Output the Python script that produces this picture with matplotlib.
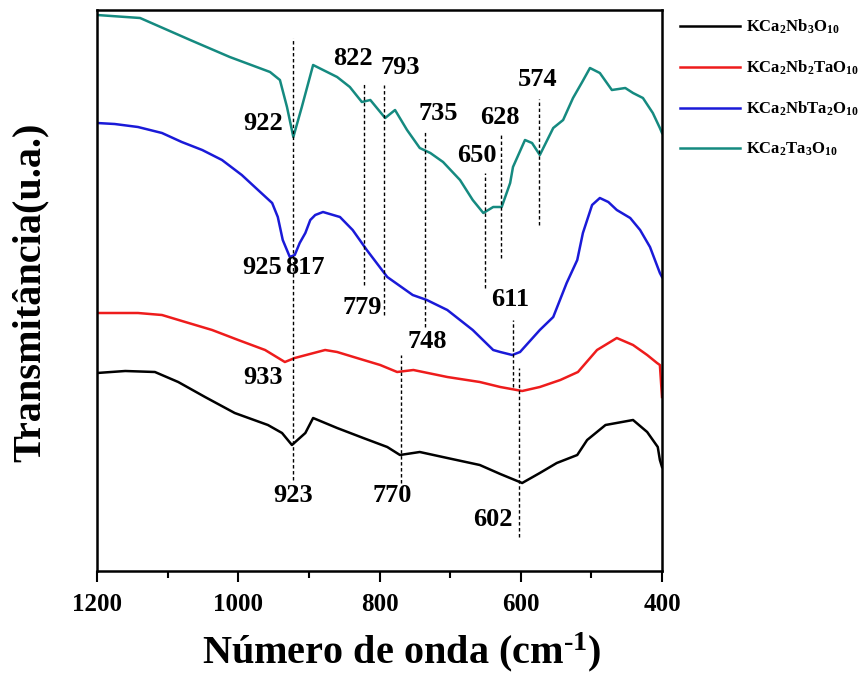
import matplotlib
matplotlib.use('Agg')
import matplotlib.pyplot as plt
from matplotlib.ticker import MultipleLocator

plt.rcParams['font.family'] = ['Liberation Serif', 'DejaVu Serif']
plt.rcParams['font.weight'] = 'bold'
plt.rcParams['mathtext.fontset'] = 'custom'
plt.rcParams['mathtext.rm'] = 'Liberation Serif:bold'
plt.rcParams['mathtext.bf'] = 'Liberation Serif:bold'
plt.rcParams['mathtext.default'] = 'rm'

# FTIR spectra (wavenumber, transmittance in a.u.)
wn_nb3 = [1200, 1160, 1118, 1085, 1047, 1005, 958, 938, 924, 905, 894, 877, 860,
          823, 789, 771, 743, 704, 658, 629, 598, 573, 549, 520, 506, 480, 441,
          421, 406, 403, 400]
t_nb3 = [198, 200, 199, 189, 174, 158, 146, 138, 126, 138, 153, 148, 143,
         133, 124, 116, 119, 113, 106, 97, 88, 98, 108, 116, 131, 146, 151,
         139, 124, 111, 104]

wn_nb2ta = [1200, 1142, 1108, 1075, 1037, 1000, 962, 934, 920, 877, 860, 832,
            799, 775, 752, 704, 658, 629, 598, 573, 544, 519, 492, 464, 441, 421,
            407, 403, 400]
t_nb2ta = [258, 258, 256, 249, 241, 231, 221, 209, 213, 221, 219, 213,
           206, 199, 201, 194, 189, 184, 180, 184, 191, 199, 221, 233, 226, 216,
           208, 206, 174]

wn_nbta2 = [1200, 1175, 1142, 1108, 1080, 1051, 1023, 995, 972, 952, 944, 937,
            927, 920, 913, 905, 898, 891, 880, 856, 838, 818, 789, 753, 733, 704,
            668, 639, 629, 612, 601, 573, 554, 535, 520, 512, 499, 488, 476, 464,
            445, 431, 417, 403, 400]
t_nbta2 = [448, 447, 444, 438, 429, 421, 411, 396, 381, 368, 354, 331,
           314, 316, 328, 338, 351, 356, 359, 354, 341, 321, 294, 276, 271, 261,
           241, 221, 219, 216, 219, 241, 254, 288, 311, 338, 366, 373, 369, 361,
           353, 341, 324, 298, 294]

wn_ta3 = [1200, 1139, 1068, 1012, 955, 941, 931, 922, 910, 894, 860, 842, 825,
          813, 792, 778, 761, 743, 728, 710, 686, 668, 653, 639, 627, 615, 611,
          594, 584, 573, 554, 540, 526, 513, 502, 488, 471, 452, 441, 427, 413,
          403, 400]
t_ta3 = [556, 553, 531, 514, 499, 491, 464, 434, 464, 506, 494, 484, 469,
         471, 453, 461, 441, 423, 418, 409, 391, 371, 358, 364, 364, 388, 404,
         431, 428, 416, 443, 451, 473, 489, 503, 498, 481, 483, 478, 473, 458,
         443, 438]

labels = [r'KCa$_2$Nb$_3$O$_{10}$', r'KCa$_2$Nb$_2$TaO$_{10}$',
          r'KCa$_2$NbTa$_2$O$_{10}$', r'KCa$_2$Ta$_3$O$_{10}$']
colors = ['black', '#ee1c1c', '#1a1ad8', '#158a80']

# marked bands: wavenumber, dashed line from/to (a.u.)
band_wn = [922, 822, 793, 735, 650, 628, 574, 611, 602, 770]
band_top = [533, 487, 486, 439, 398, 436, 472, 251, 203, 216]
band_bot = [91, 286, 256, 244, 283, 313, 346, 184, 34, 88]

# band labels: text, x, y
peak_txt = ['922', '822', '793', '735', '650', '628', '574', '925', '817',
            '779', '611', '748', '933', '923', '770', '602']
peak_x = [965, 837, 771, 717, 662, 629, 576, 966, 905, 825, 615, 733, 965,
          922, 782, 639]
peak_y = [448, 513, 504, 458, 416, 454, 491, 303, 303, 263, 271, 229, 193,
          76, 76, 51]

fig = plt.figure(figsize=(8.67, 6.84), dpi=100)
ax = fig.add_axes([97/867, 1-571/684, 565/867, 561/684])

series = [(wn_nb3, t_nb3), (wn_nb2ta, t_nb2ta), (wn_nbta2, t_nbta2), (wn_ta3, t_ta3)]
for (x, y), lab, c in zip(series, labels, colors):
    ax.plot(x, y, color=c, lw=1.8, label=lab)

for w, t0, t1 in zip(band_wn, band_top, band_bot):
    ax.plot([w, w], [t1, t0], color='black', lw=1, ls=(0, (2.5, 1.8)))

for s, x, y in zip(peak_txt, peak_x, peak_y):
    ax.text(x, y, s, fontsize=19, fontweight='bold', ha='center', va='center')

ax.set_xlim(1200, 400)
ax.set_ylim(0, 561)
ax.xaxis.set_major_locator(MultipleLocator(200))
ax.xaxis.set_minor_locator(MultipleLocator(100))
ax.tick_params(axis='x', which='major', direction='out', length=8, width=1.5,
               labelsize=18, pad=8)
ax.tick_params(axis='x', which='minor', direction='out', length=5, width=1.5)
ax.set_yticks([])
for sp in ax.spines.values():
    sp.set_linewidth(1.8)

ax.set_xlabel(r'Número de onda (cm$^{\text{-1}}$)', fontsize=29, fontweight='bold')
ax.xaxis.set_label_coords(0.54, -0.105)
ax.set_ylabel('Transmitância(u.a.)', fontsize=29, fontweight='bold')
ax.yaxis.set_label_coords(-0.085, 0.497)

fig.legend(loc='upper left', bbox_to_anchor=(665/867, 1-3/684), frameon=False,
           fontsize=12, handlelength=3.6, labelspacing=1.35, handletextpad=0.35)

fig.savefig('out.png', dpi=100)
